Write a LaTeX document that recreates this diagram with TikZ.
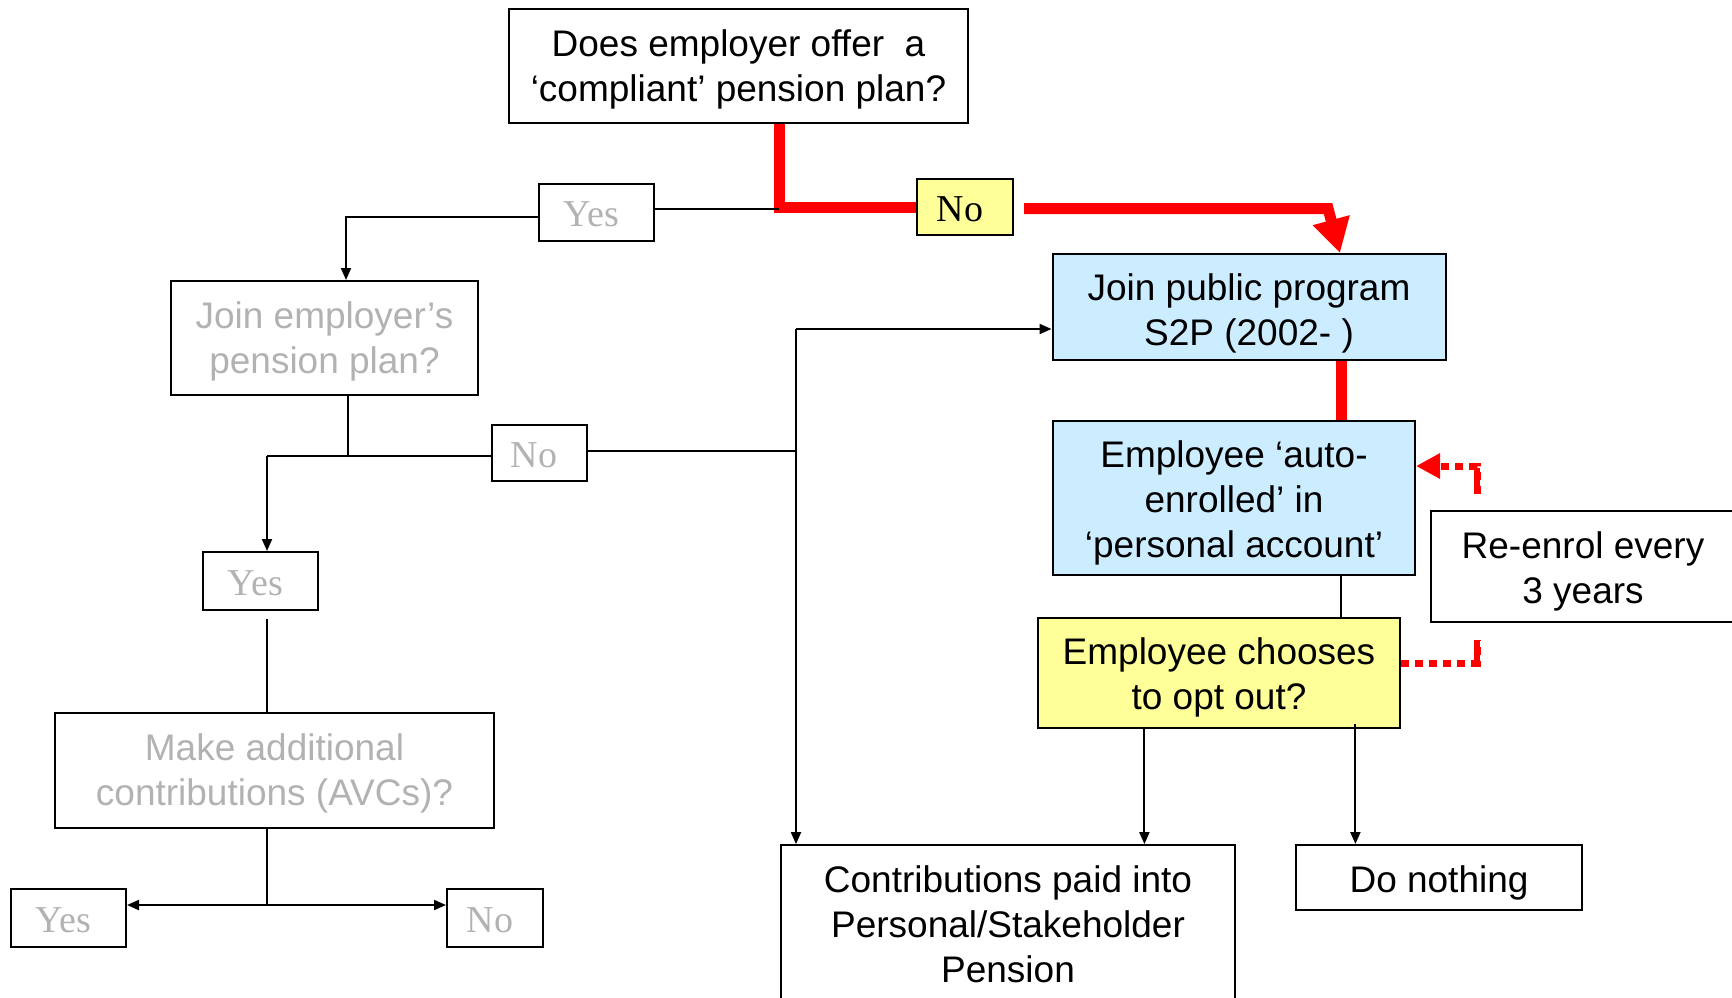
\documentclass[tikz,border=0pt]{standalone}
\usepackage{fontspec}
\setmainfont{Liberation Sans}
\newfontfamily\ynfont{Liberation Serif}
\usetikzlibrary{arrows.meta,calc}
\definecolor{textgrey}{RGB}{178,178,178}
\definecolor{paleblue}{RGB}{204,236,255}
\definecolor{paleyellow}{RGB}{255,255,153}
\definecolor{flowred}{RGB}{255,0,0}
\tikzset{
  box/.style={draw=black, line width=1pt, inner sep=0pt},
  bluebox/.style={box, fill=paleblue},
  yellowbox/.style={box, fill=paleyellow},
  btext/.style={inner sep=0pt, align=center, font=\fontsize{18.5}{22.5}\selectfont},
  greytext/.style={btext, text=textgrey},
  yn/.style={draw=black, line width=1pt, inner sep=0pt,
    font=\ynfont\fontsize{19}{21}\selectfont, text=textgrey,
    text height=1.45em, text depth=0.05em},
  conn/.style={line width=1pt, draw=black},
  arr/.style={conn, -{Triangle[length=6pt,width=5pt]}},
  redline/.style={line width=5.5pt, draw=flowred, line join=miter},
  reddot/.style={line width=3.5pt, draw=flowred, dash pattern=on 4pt off 3pt},
  redstub/.style={line width=3pt, draw=flowred}
}
\begin{document}
\begin{tikzpicture}[x=0.5pt,y=-0.5pt]
\useasboundingbox (0,0) rectangle (1732,997);
\clip (0,0) rectangle (1732,997);

% question and outcome boxes, with their texts set slightly below centre
\node[box, minimum width=229.5pt, minimum height=57pt] (top) at (738.5,66) {};
\node[btext] (topT) at ([yshift=-1.6pt]top.center)
  {Does employer offer\ \ a\\`compliant' pension plan?};
\node[box, minimum width=153.5pt, minimum height=57pt] (empjoin) at (324.5,338) {};
\node[greytext] (empjoinT) at ([yshift=-1.6pt]empjoin.center)
  {Join employer's\\pension plan?};
\node[box, minimum width=219.5pt, minimum height=57.5pt] (avc) at (274.5,770) {};
\node[greytext] (avcT) at ([yshift=-1.6pt]avc.center)
  {Make additional\\contributions (AVCs)?};
\node[bluebox, minimum width=196.5pt, minimum height=53pt] (pubjoin) at (1249,307) {};
\node[btext] (pubjoinT) at ([yshift=-3.4pt]pubjoin.center)
  {Join public program\\S2P (2002- )};
\node[bluebox, minimum width=181pt, minimum height=77.25pt] (auto) at (1234,498) {};
\node[btext] (autoT) at ([yshift=-2.5pt]auto.center)
  {Employee `auto-\\enrolled' in\\`personal account'};
\node[yellowbox, minimum width=181pt, minimum height=55.25pt] (choose) at (1219,673) {};
\node[btext] (chooseT) at ([yshift=-2.2pt]choose.center)
  {Employee chooses\\to opt out?};
\node[box, minimum width=152.5pt, minimum height=55.3pt] (reenrol) at (1583,566.7) {};
\node[btext] (reenrolT) at ([yshift=-2.5pt]reenrol.center)
  {Re-enrol every\\3 years};
\node[box, minimum width=227pt, minimum height=79.5pt] (contrib) at (1008,924.6) {};
\node[btext] (contribT) at (contrib.center)
  {Contributions paid into\\Personal/Stakeholder\\Pension};
\node[box, minimum width=143pt, minimum height=32.5pt] (donothing) at (1439,877.5) {};
\node[btext] (donothingT) at ([yshift=-2.5pt]donothing.center) {Do nothing};

% yes / no answer boxes
\node[yn, fill=paleyellow, text=black, minimum width=48pt, minimum height=28pt] (noA) at (965,207) {No\kern5pt};
\node[yn, minimum width=57.5pt, minimum height=28.5pt] (yesA) at (596.5,212.5) {Yes\kern5pt};
\node[yn, minimum width=47.5pt, minimum height=28.3pt] (noB) at (539,453) {No\kern5pt};
\node[yn, minimum width=57.5pt, minimum height=29pt] (yesB) at (260.5,581) {Yes\kern5pt};
\node[yn, minimum width=57.5pt, minimum height=29pt] (yesC) at (68.5,918) {Yes\kern5pt};
\node[yn, minimum width=48pt, minimum height=29pt] (noC) at (495,918) {No\kern5pt};

% junction points
\coordinate (rA) at (779,208.5);
\coordinate (rB) at (1328,208.5);
\coordinate (rC) at (1024,208.5);
\coordinate (rT) at (1340,0);
\coordinate (rD) at (1341,0);
\coordinate (yb) at (346,216.5);
\coordinate (ec) at (348,456);
\coordinate (ed) at (267,456);
\coordinate (jA) at (796,451);
\coordinate (jB) at (796,329);
\coordinate (yc) at (267,619);
\coordinate (ad) at (267,905);
\coordinate (dA) at (1477,663);
\coordinate (dB) at (1477,640);
\coordinate (dC) at (1477,494);
\coordinate (dD) at (1477,466);
\coordinate (cA) at (1144.4,728);
\coordinate (cB) at (1355.4,724);

% highlighted route
\draw[redline] (top.south -| rA) |- (noA.west);
\draw[redline, -{Triangle[length=17pt,width=18pt]}] (rC) -- (rB) -- (pubjoin.north -| rT);
\draw[redline] (pubjoin.south -| rD) -- (auto.north -| rD);

% employer branch
\draw[conn] (yesA.east |- rA) -- (rA);
\draw[arr] (yesA.west |- yb) -- (yb) -- (empjoin.north -| yb);
\draw[conn] (empjoin.south -| ec) -- (ec);
\draw[conn] (noB.west |- ec) -- (ed);
\draw[arr] (ed) -- (yesB.north -| ed);
\draw[conn] (noB.east |- jA) -- (jA) -- (jB);
\draw[arr] (jB) -- (pubjoin.west |- jB);
\draw[arr] (jB) -- (contrib.north -| jB);
\draw[conn] (yc) -- (avc.north -| yc);
\draw[conn] (avc.south -| ad) -- (ad);
\draw[arr] (ad) -- (yesC.east |- ad);
\draw[arr] (ad) -- (noC.west |- ad);

% public programme branch: re-enrolment loop
\draw[conn] (auto.south -| rD) -- (choose.north -| rD);
\draw[reddot] (choose.east |- dA) -- (dA) -- (dB);
\draw[redstub] (dA) -- (dB);
\draw[reddot, -{Triangle[length=12pt,width=12pt]}] (dC) -- (dD) -- (auto.east |- dD);
\draw[redstub] (dC) -- ([yshift=-1pt]dD);
\draw[arr] (choose.south -| cA) -- (contrib.north -| cA);
\draw[arr] (cB) -- (donothing.north -| cB);
\end{tikzpicture}
\end{document}
